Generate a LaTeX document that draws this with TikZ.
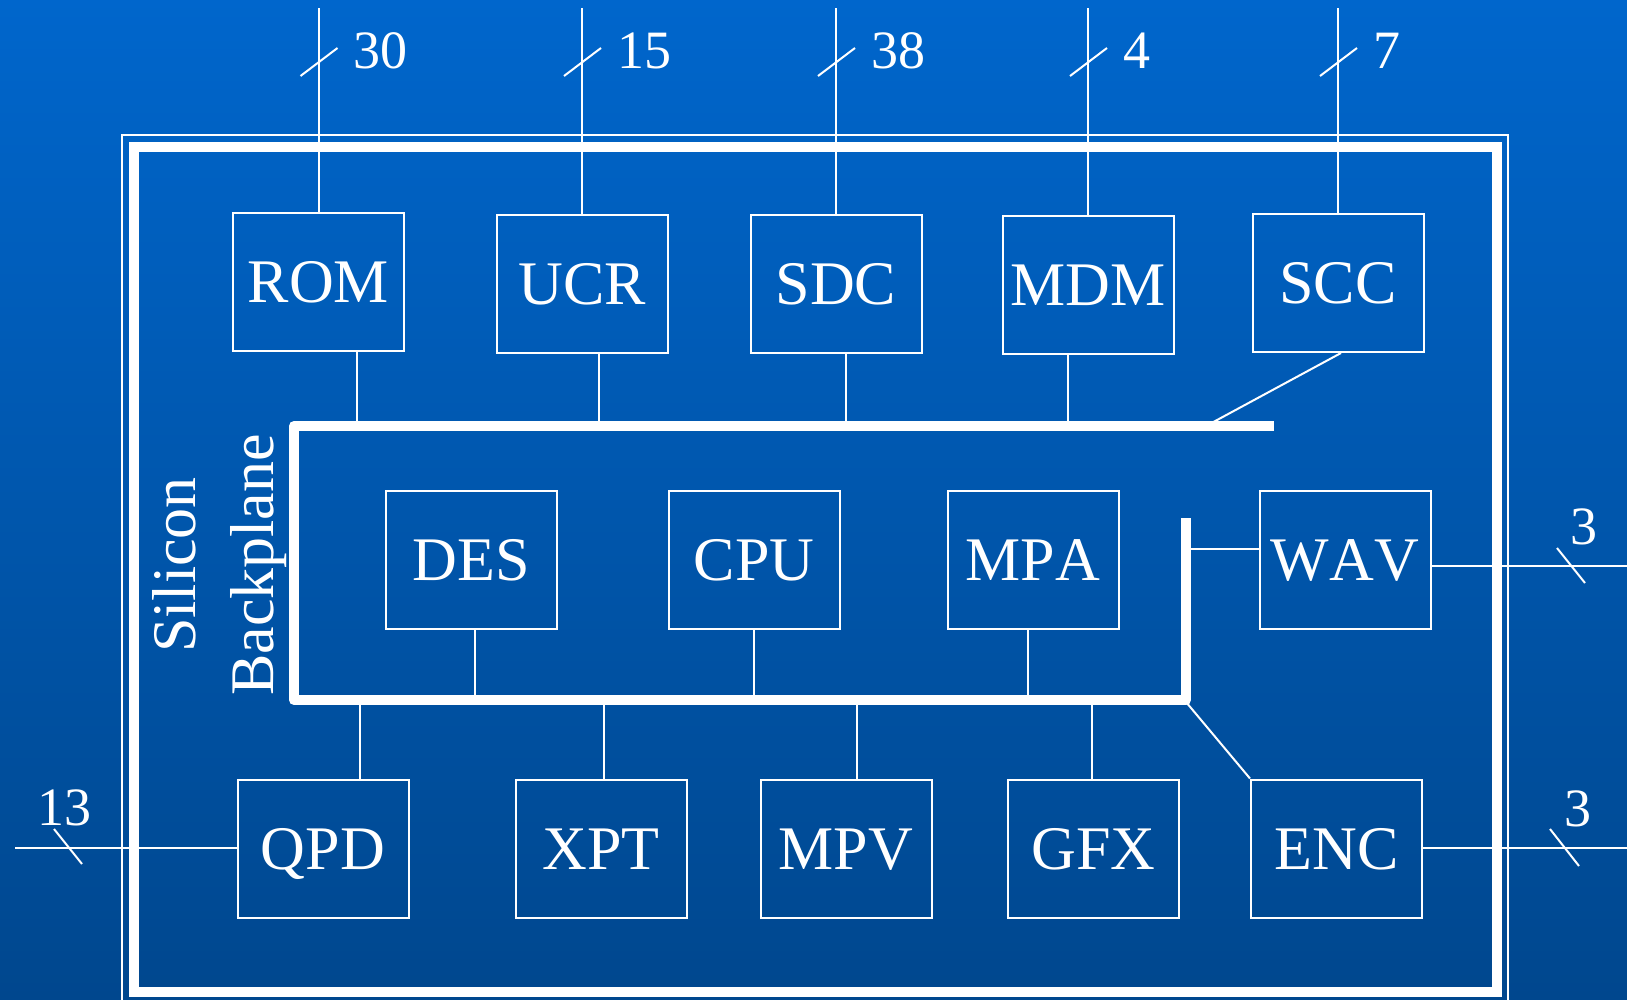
\documentclass[tikz,border=0pt]{standalone}
\usepackage{fontspec}
\setmainfont{Liberation Serif}[Kerning=Off]
\definecolor{bgtop}{RGB}{0,102,204}
\definecolor{bgbot}{RGB}{0,71,142}
\begin{document}
\begin{tikzpicture}[x=1pt,y=-1pt,
  box/.style={draw=white, line width=2pt, minimum width=171pt, minimum height=138pt,
    inner sep=0pt, text=white, font=\fontsize{62}{74}\selectfont, text height=41pt, text depth=0pt},
  wire/.style={draw=white, line width=2pt},
  bus/.style={draw=white, line width=10pt, line join=round},
  num/.style={text=white, font=\fontsize{54}{64}\selectfont, inner sep=0pt},
  sidelabel/.style={text=white, font=\fontsize{62}{74}\selectfont, inner sep=0pt, rotate=90, anchor=base}
]
\shade[top color=bgtop, bottom color=bgbot] (0,0) rectangle (1627,999);
\useasboundingbox (0,0) rectangle (1627,999);

% frame
\draw[white, line width=2.5pt] (122,135) rectangle (1508,1004);
\draw[white, line width=10pt] (134,147) rectangle (1497,992);

% boxes
\node[box] (ROM) at (318.5,282) {ROM};
\node[box] (UCR) at (582,284) {UCR};
\node[box] (SDC) at (836,284) {SDC};
\node[box] (MDM) at (1088,285) {MDM};
\node[box] (SCC) at (1338,283) {SCC};
\node[box] (DES) at (471,560) {DES};
\node[box] (CPU) at (754,560) {CPU};
\node[box] (MPA) at (1033,560) {MPA};
\node[box] (WAV) at (1345,560) {WAV};
\node[box] (QPD) at (323,848.5) {QPD};
\node[box] (XPT) at (601,848.5) {XPT};
\node[box] (MPV) at (846,848.5) {MPV};
\node[box] (GFX) at (1093.5,848.5) {GFX};
\node[box] (ENC) at (1336.5,848.5) {ENC};

% side text
\node[sidelabel] (sil) at (195,565) {Silicon};
\node[sidelabel] (bpl) at (273,565) {Backplane};

% top pins
\foreach \n/\v in {ROM/30, UCR/15, SDC/38, MDM/4, SCC/7} {
  \coordinate (\n x) at (\n.north |- 0,0);
  \coordinate (\n top) at (\n.north |- 0,8);
  \draw[wire] (\n.north) -- (\n top);
  \draw[wire] ([shift={(-18,76)}]\n x) -- ++(37,-28);
  \node[num, anchor=west] (\n num) at ([shift={(35,50.5)}]\n x) {\v};
}

% side pins
\coordinate (wavpin) at (1627,566);
\draw[wire] (WAV.east |- wavpin) -- (wavpin);
\draw[wire] (1557,548) -- (1585,583);
\node[num] (wavnum) at (1584,526.5) {3};
\coordinate (encpin) at (1627,848);
\draw[wire] (ENC.east |- encpin) -- (encpin);
\draw[wire] (1550,829) -- (1579,866);
\node[num] (encnum) at (1578,808.5) {3};
\coordinate (qpdpin) at (15,848);
\draw[wire] (QPD.west |- qpdpin) -- (qpdpin);
\draw[wire] (54,829) -- (82,864);
\node[num] (qpdnum) at (64.5,808) {13};

% bus connectors
\foreach \n/\x in {ROM/357, UCR/599, SDC/846, MDM/1068} {
  \coordinate (\n b) at (\x,426);
  \draw[wire] (\n b |- \n.south) -- (\n b);
}
\foreach \n/\x in {DES/475, CPU/754, MPA/1028} {
  \coordinate (\n b) at (\x,700);
  \draw[wire] (\n b |- \n.south) -- (\n b);
}
\foreach \n/\x in {QPD/360, XPT/604, MPV/857, GFX/1092} {
  \coordinate (\n b) at (\x,700);
  \draw[wire] (\n b) -- (\n b |- \n.north);
}
\coordinate (SCCb) at (1206,426);
\draw[wire] ([xshift=3pt]SCC.south) -- (SCCb);
\coordinate (WAVb) at (1186,549);
\draw[wire] (WAVb) -- (WAV.west |- WAVb);
\coordinate (ENCb) at (1186,702);
\draw[wire] (ENCb) -- (ENC.north west);

% bus
\coordinate (busA) at (1274,426);
\coordinate (busB) at (294,426);
\coordinate (busC) at (294,700);
\coordinate (busD) at (1186,700);
\coordinate (busE) at (1186,518);
\draw[bus] (busA) -- (busB) -- (busC) -- (busD) -- (busE);
\end{tikzpicture}
\end{document}
